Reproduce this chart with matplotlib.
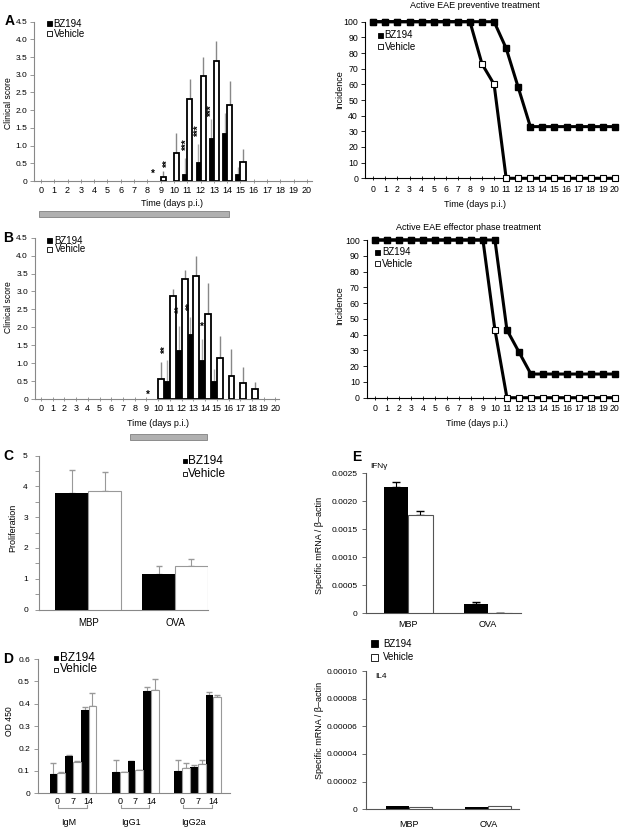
import numpy as np
import matplotlib
matplotlib.use('Agg')
import matplotlib.pyplot as plt
from matplotlib.patches import Rectangle

plt.rcParams['font.family'] = ['Liberation Sans', 'DejaVu Sans']

W, H = 624, 830

# ---------------- data ----------------
# A: clinical score, preventive treatment
A_days_bz = [11, 12, 13, 14, 15]
A_bz = [0.21, 0.53, 1.22, 1.36, 0.19]
A_bz_err = [0.44, 0.52, 0.53, 0.55, 0.21]
A_days_veh = [9, 10, 11, 12, 13, 14, 15]
A_veh = [0.12, 0.78, 2.32, 2.97, 3.39, 2.15, 0.53]
A_veh_err = [0.16, 0.57, 0.56, 0.53, 0.57, 0.67, 0.37]

# B: clinical score, effector phase treatment
B_days_bz = [11, 12, 13, 14, 15]
B_bz = [0.50, 1.37, 1.80, 1.09, 0.50]
B_bz_err = [0.59, 0.67, 0.50, 0.58, 0.33]
B_days_veh = [10, 11, 12, 13, 14, 15, 16, 17, 18]
B_veh = [0.57, 2.86, 3.36, 3.44, 2.37, 1.14, 0.64, 0.44, 0.29]
B_veh_err = [0.47, 0.22, 0.24, 0.56, 0.88, 0.62, 0.76, 0.46, 0.19]

# incidence curves
days = list(range(21))
prev_bz = [100, 100, 100, 100, 100, 100, 100, 100, 100, 100, 100, 83, 58,
           33, 33, 33, 33, 33, 33, 33, 33]
prev_veh = [100, 100, 100, 100, 100, 100, 100, 100, 100, 73, 60, 0, 0,
            0, 0, 0, 0, 0, 0, 0, 0]
eff_bz = [100, 100, 100, 100, 100, 100, 100, 100, 100, 100, 100, 43, 29,
          15, 15, 15, 15, 15, 15, 15, 15]
eff_veh = [100, 100, 100, 100, 100, 100, 100, 100, 100, 100, 43, 0, 0,
           0, 0, 0, 0, 0, 0, 0, 0]

# C: proliferation
C_cats = ['MBP', 'OVA']
C_bz = [3.78, 1.15]
C_bz_err = [0.77, 0.27]
C_veh = [3.85, 1.43]
C_veh_err = [0.63, 0.20]

# D: antibodies OD 450
D_groups = ['IgM', 'IgG1', 'IgG2a']
D_days = ['0', '7', '14']
D_bz = [0.088, 0.167, 0.372, 0.096, 0.143, 0.455, 0.098, 0.117, 0.438]
D_bz_err = [0.049, 0.004, 0.014, 0.051, 0.0, 0.020, 0.050, 0.008, 0.014]
D_veh = [0.090, 0.142, 0.390, 0.093, 0.103, 0.462, 0.112, 0.130, 0.428]
D_veh_err = [0.007, 0.003, 0.057, 0.004, 0.002, 0.048, 0.023, 0.018, 0.009]

# E: specific mRNA
E_cats = ['MBP', 'OVA']
E_ifn_bz = [0.00226, 0.000175]
E_ifn_bz_err = [0.00008, 0.00003]
E_ifn_veh = [0.00175, 0.000008]
E_ifn_veh_err = [0.00008, 0.0]
E_il4_bz = [2.6e-6, 1.9e-6]
E_il4_veh = [2.0e-6, 2.2e-6]

# ---------------- helpers ----------------
fig = plt.figure(figsize=(6.24, 8.30), dpi=100)


def box(l, r, b, t):
    return fig.add_axes([l / W, 1 - b / H, (r - l) / W, (b - t) / H])


def ftext(x, y, s, **kw):
    fig.text(x / W, 1 - y / H, s, **kw)


def key(x, y, face, label, s=5, fs=7, gap=2):
    fig.add_artist(Rectangle(((x - s / 2) / W, 1 - (y + s / 2) / H), s / W, s / H,
                             transform=fig.transFigure, facecolor=face,
                             edgecolor='black', lw=0.6))
    ftext(x + s / 2 + gap, y, label, fontsize=fs, va='center', ha='left')


def gray_bar(l, r, t, b):
    fig.add_artist(Rectangle((l / W, 1 - b / H), (r - l) / W, (b - t) / H,
                             transform=fig.transFigure, facecolor='#b0b0b0',
                             edgecolor='#808080', lw=0.6))


def style(ax, col='#888888'):
    for s in ['top', 'right']:
        ax.spines[s].set_visible(False)
    for s in ['left', 'bottom']:
        ax.spines[s].set_color(col)
        ax.spines[s].set_linewidth(0.8)
    ax.tick_params(colors=col, labelcolor='black', labelsize=6, width=0.6)


score_ticks = [0, 0.5, 1, 1.5, 2, 2.5, 3, 3.5, 4, 4.5]
score_labels = ['0'] + ['%.1f' % v for v in score_ticks[1:]]


def score_panel(ax, dbz, bz, bze, dveh, veh, vehe, w, lo, hi):
    style(ax)
    ax.set_xlim(lo, hi)
    ax.set_ylim(0, 4.5)
    xb = np.array(dbz) - w / 2
    xv = np.array(dveh) + w / 2
    ax.bar(xb, bz, w, color='black', edgecolor='black', lw=0.6, zorder=3)
    ax.bar(xv, veh, w, facecolor='white', edgecolor='black', lw=1.3, zorder=3)
    ax.vlines(xb, bz, np.array(bz) + np.array(bze), color='#aaaaaa', lw=1, zorder=2)
    ax.vlines(xv, veh, np.array(veh) + np.array(vehe), color='#888888', lw=1, zorder=2)
    ax.set_xticks(days)
    ax.set_xticklabels([str(d) for d in days])
    ax.set_yticks(score_ticks)
    ax.set_yticklabels(score_labels)
    ax.tick_params(axis='x', direction='inout', length=3, pad=2, labelsize=6.5)
    ax.tick_params(axis='y', length=3, pad=2)


# ---------------- A ----------------
axA = box(34.3, 312.3, 181, 21.7)
score_panel(axA, A_days_bz, A_bz, A_bz_err, A_days_veh, A_veh, A_veh_err, 0.38, -0.5, 20.4)
for x, y, s in [(8.4, 0.2, '*'), (9.5, 0.5, '**'), (10.95, 1.05, '***'),
                (11.9, 1.43, '***'), (12.85, 2.0, '***')]:
    axA.text(x, y, s, rotation=0 if s == '*' else 90, fontsize=7, ha='center',
             va='center', fontweight='bold', zorder=5)
ftext(10, 21, 'A', fontsize=10, fontweight='bold', ha='center', va='center')
ftext(9, 103, 'Clinical score', fontsize=6.2, rotation=90, ha='center', va='center')
ftext(172, 203, 'Time (days p.i.)', fontsize=6.5, ha='center', va='center')
gray_bar(39, 229, 211.5, 217)
key(49, 24, 'black', 'BZ194')
key(49, 34, 'white', 'Vehicle')

# ---------------- B ----------------
axB = box(35, 279, 399, 237.7)
score_panel(axB, B_days_bz, B_bz, B_bz_err, B_days_veh, B_veh, B_veh_err, 0.5, -0.5, 20.3)
for x, y, s in [(9.1, 0.12, '*'), (10.65, 1.4, '**'), (11.8, 2.5, '**'),
                (12.8, 2.6, '**'), (13.75, 2.0, '*')]:
    axB.text(x, y, s, rotation=0 if s == '*' else 90, fontsize=7, ha='center',
             va='center', fontweight='bold', zorder=5)
ftext(8, 238, 'B', fontsize=10, fontweight='bold', ha='center', va='center')
ftext(9, 307, 'Clinical score', fontsize=6.2, rotation=90, ha='center', va='center')
ftext(158, 423, 'Time (days p.i.)', fontsize=6.5, ha='center', va='center')
gray_bar(130, 207, 433.5, 440)
key(50, 241, 'black', 'BZ194')
key(50, 249.5, 'white', 'Vehicle')


# ---------------- incidence ----------------
def incidence(ax, bz, veh):
    style(ax, 'black')
    ax.set_xlim(-0.69, 20.26)
    ax.set_ylim(0, 100)
    ax.plot(days, veh, '-s', color='black', lw=2.2, ms=4.2, mfc='white',
            mec='black', mew=0.8, clip_on=False, zorder=3)
    ax.plot(days, bz, '-s', color='black', lw=2.2, ms=4.2, mfc='black',
            mec='black', clip_on=False, zorder=4)
    ax.set_xticks(days)
    ax.set_xticklabels([str(d) for d in days])
    ax.set_yticks(range(0, 101, 10))
    ax.tick_params(axis='x', direction='inout', length=3, pad=3, labelsize=6.3)
    ax.tick_params(axis='y', length=3, pad=2, labelsize=6.3)


axP = box(365, 618, 178.3, 21.7)
incidence(axP, prev_bz, prev_veh)
ftext(475, 6, 'Active EAE preventive treatment', fontsize=6.5, ha='center', va='center')
ftext(340, 90, 'Incidence', fontsize=6.5, rotation=90, ha='center', va='center')
ftext(475, 204, 'Time (days p.i.)', fontsize=6.5, ha='center', va='center')
key(380, 35.5, 'black', 'BZ194')
key(380, 47, 'white', 'Vehicle')

axF = box(366.7, 618, 397.7, 240)
incidence(axF, eff_bz, eff_veh)
ftext(468, 227, 'Active EAE effector phase treatment', fontsize=6.5, ha='center', va='center')
ftext(340, 306, 'Incidence', fontsize=6.5, rotation=90, ha='center', va='center')
ftext(477, 423, 'Time (days p.i.)', fontsize=6.5, ha='center', va='center')
key(377.5, 252, 'black', 'BZ194')
key(377.5, 264, 'white', 'Vehicle')

# ---------------- C ----------------
axC = box(39, 208.3, 609.5, 455.7)
style(axC)
w = 0.38
xc = np.arange(len(C_cats))
axC.bar(xc - w / 2, C_bz, w, color='black', zorder=3)
axC.bar(xc + w / 2, C_veh, w, facecolor='white', edgecolor='#999999', lw=0.8, zorder=3)
axC.errorbar(xc - w / 2, C_bz, yerr=[np.zeros(2), C_bz_err], fmt='none',
             ecolor='#999999', elinewidth=0.8, capsize=2.5, zorder=2)
axC.errorbar(xc + w / 2, C_veh, yerr=[np.zeros(2), C_veh_err], fmt='none',
             ecolor='#999999', elinewidth=0.8, capsize=2.5, zorder=2)
axC.set_xlim(-0.569, 1.384)
axC.set_ylim(0, 5)
axC.set_yticks([0, 1, 2, 3, 4, 5])
axC.set_yticks(np.arange(0.5, 5, 1), minor=True)
axC.tick_params(axis='y', which='both', length=3, pad=5, color='#888888')
axC.set_xticks(xc)
axC.set_xticklabels(C_cats, fontsize=7)
axC.tick_params(axis='x', length=0, pad=6)
ftext(8, 456, 'C', fontsize=10, fontweight='bold', ha='center', va='center')
ftext(13, 528, 'Proliferation', fontsize=6.5, rotation=90, ha='center', va='center')
key(184.5, 461, 'black', 'BZ194', s=4, fs=8.5, gap=1.5)
key(184.5, 474, 'white', 'Vehicle', s=4, fs=8.5, gap=1.5)

# ---------------- D ----------------
axD = box(38.3, 230, 793.3, 659)
style(axD)
pos = np.array([0, 1, 2, 4, 5, 6, 8, 9, 10])
w = 0.5
axD.bar(pos - w / 2, D_bz, w, color='black', zorder=3)
axD.bar(pos + w / 2, D_veh, w, facecolor='white', edgecolor='#999999', lw=0.8, zorder=3)
axD.errorbar(pos - w / 2, D_bz, yerr=[np.zeros(9), D_bz_err], fmt='none',
             ecolor='#999999', elinewidth=0.8, capsize=2, zorder=2)
axD.errorbar(pos + w / 2, D_veh, yerr=[np.zeros(9), D_veh_err], fmt='none',
             ecolor='#999999', elinewidth=0.8, capsize=2, zorder=2)
axD.set_xlim(-1.22, 11.07)
axD.set_ylim(0, 0.6)
axD.set_yticks([0, 0.1, 0.2, 0.3, 0.4, 0.5, 0.6])
axD.set_yticklabels(['0', '0.1', '0.2', '0.3', '0.4', '0.5', '0.6'])
axD.tick_params(axis='y', length=3, pad=3)
axD.set_xticks(pos)
axD.set_xticklabels(D_days * 3, fontsize=6.5)
axD.tick_params(axis='x', length=0, pad=3)
tr = axD.get_xaxis_transform()
for g, name in enumerate(D_groups):
    a, b = pos[3 * g] + 0.05, pos[3 * g + 2] - 0.1
    axD.plot([a, a, b, b], [-0.088, -0.11, -0.11, -0.088], color='#999999',
             lw=0.8, transform=tr, clip_on=False)
    axD.text(pos[3 * g + 1] - 0.3, -0.22, name, fontsize=6.5, ha='center',
             va='center', transform=tr)
ftext(8, 659, 'D', fontsize=10, fontweight='bold', ha='center', va='center')
ftext(10, 721, 'OD 450', fontsize=6.2, rotation=90, ha='center', va='center')
key(56.3, 658, 'black', 'BZ194', s=4, fs=8.5, gap=1.5)
key(56.3, 669.5, 'white', 'Vehicle', s=4, fs=8.5, gap=1.5)

# ---------------- E ----------------
xe = np.arange(len(E_cats))
axE1 = box(366, 520.7, 613.3, 473.3)
style(axE1, '#555555')
w = 0.306
axE1.bar(xe - w / 2, E_ifn_bz, w, color='black', zorder=3)
axE1.bar(xe + w / 2, E_ifn_veh, w, facecolor='white', edgecolor='#555555', lw=0.8, zorder=3)
axE1.errorbar(xe - w / 2, E_ifn_bz, yerr=[np.zeros(2), E_ifn_bz_err], fmt='none',
              ecolor='black', elinewidth=0.8, capsize=3, zorder=2)
axE1.errorbar(xe + w / 2, E_ifn_veh, yerr=[np.zeros(2), E_ifn_veh_err], fmt='none',
              ecolor='black', elinewidth=0.8, capsize=3, zorder=2)
axE1.set_xlim(-0.53, 1.41)
axE1.set_ylim(0, 0.0025)
axE1.set_yticks([0, 0.0005, 0.001, 0.0015, 0.002, 0.0025])
axE1.set_yticklabels(['0', '0.0005', '0.0010', '0.0015', '0.0020', '0.0025'])
axE1.tick_params(axis='y', length=3, pad=3)
axE1.set_xticks(xe)
axE1.set_xticklabels(E_cats, fontsize=6.5)
axE1.tick_params(axis='x', length=0, pad=5)
axE1.text(0.03, 1.05, 'IFN\u03b3', fontsize=6, transform=axE1.transAxes,
          ha='left', va='center')
ftext(357, 457, 'E', fontsize=10, fontweight='bold', ha='center', va='center')
ftext(320, 545, 'Specific mRNA / \u03b2\u2013actin', fontsize=6.5, rotation=90,
      ha='center', va='center')

axE2 = box(366, 519, 809.3, 671)
style(axE2, '#555555')
w = 0.29
axE2.bar(xe - w / 2, E_il4_bz, w, color='black', zorder=3)
axE2.bar(xe + w / 2, E_il4_veh, w, facecolor='white', edgecolor='#555555', lw=0.8, zorder=3)
axE2.set_xlim(-0.542, 1.387)
axE2.set_ylim(0, 0.0001)
axE2.set_yticks([0, 0.00002, 0.00004, 0.00006, 0.00008, 0.0001])
axE2.set_yticklabels(['0', '0.00002', '0.00004', '0.00006', '0.00008', '0.00010'])
axE2.tick_params(axis='y', length=3, pad=3)
axE2.set_xticks(xe)
axE2.set_xticklabels(E_cats, fontsize=6.5)
axE2.tick_params(axis='x', length=0, pad=8)
axE2.text(0.06, 0.96, 'IL4', fontsize=6, transform=axE2.transAxes,
          ha='left', va='center')
ftext(320, 730, 'Specific mRNA / \u03b2\u2013actin', fontsize=6.5, rotation=90,
      ha='center', va='center')
key(374.5, 643.7, 'black', 'BZ194', s=6.5, fs=7, gap=5)
key(374.5, 657.5, 'white', 'Vehicle', s=6.5, fs=7, gap=5)

fig.savefig('out.png', dpi=100)
